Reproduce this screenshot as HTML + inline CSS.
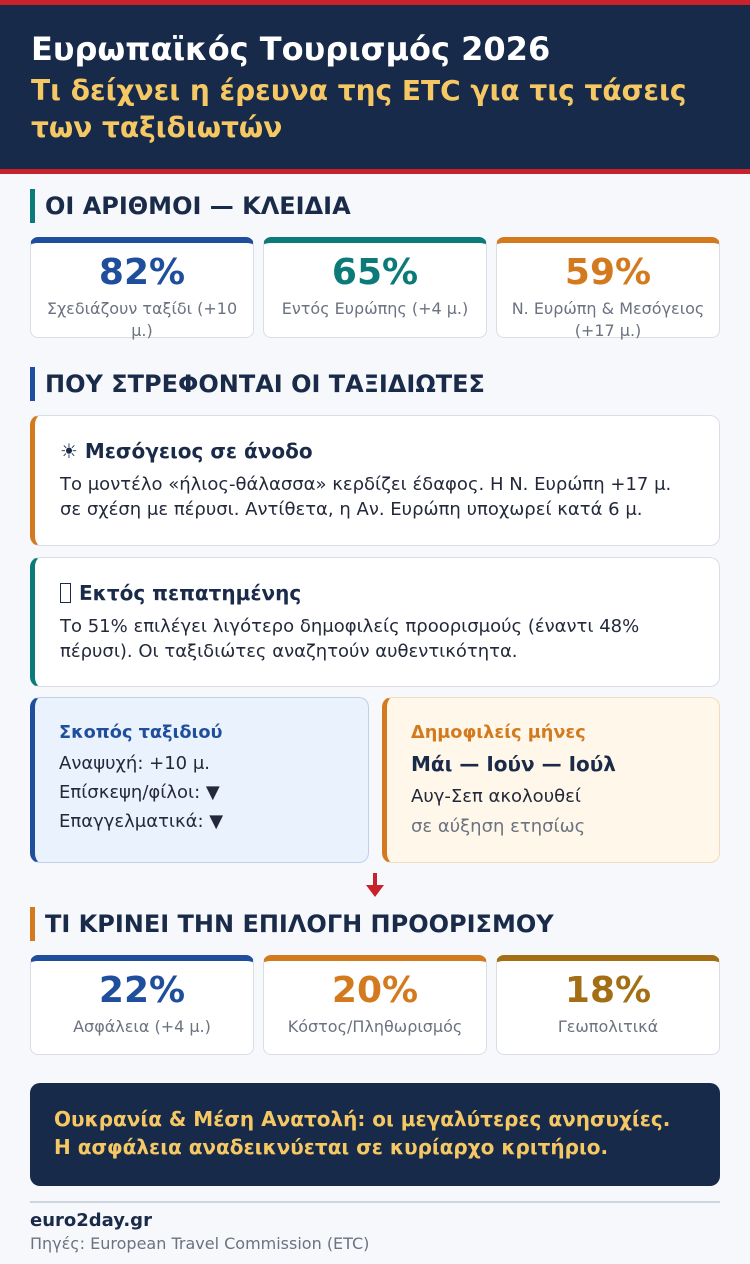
<!DOCTYPE html>
<html>
<head>
<meta charset="utf-8">
<style>
*{margin:0;padding:0;box-sizing:border-box;}
html,body{width:750px;height:1264px;overflow:hidden;}
body{background:#f6f8fb;font-family:"DejaVu Sans","Liberation Sans",sans-serif;position:relative;color:#1a2b4a;}
.abs{position:absolute;}
#hdr{left:0;top:0;width:750px;height:174px;background:#182a4a;border-top:5px solid #c8232c;border-bottom:5px solid #c8232c;}
.t1{left:31px;top:31px;font-size:32px;line-height:36px;font-weight:bold;color:#fff;white-space:nowrap;}
.t2{left:31px;top:72px;font-size:28px;line-height:37px;font-weight:bold;color:#f5c864;white-space:nowrap;}
.sec{left:30px;height:34px;border-left:5px solid #0b7a78;padding-left:10px;font-size:24px;line-height:34px;font-weight:bold;color:#1a2b4a;white-space:nowrap;}
.stat{width:224px;background:#fff;border:1px solid #d9dee6;border-top:6px solid #1f4e9c;border-radius:8px;}
.num{position:absolute;left:0;right:0;top:10px;text-align:center;font-size:36px;line-height:40px;font-weight:bold;}
.lab{position:absolute;left:0;right:0;top:55px;text-align:center;font-size:16px;line-height:22px;color:#6b7280;white-space:nowrap;}
.card{left:30px;width:690px;height:131px;background:#fff;border:1px solid #d9dee6;border-left:5px solid #d47a1e;border-radius:10px;}
.ct{position:absolute;left:25px;top:22.3px;font-size:20px;line-height:26px;font-weight:bold;color:#1a2b4a;white-space:nowrap;}
.cb{position:absolute;left:25px;top:55.5px;font-size:18px;line-height:25px;color:#23293a;white-space:nowrap;}
.box{top:697px;height:166px;border-radius:10px;}
.bx{position:absolute;left:24px;white-space:nowrap;font-size:18px;line-height:28px;color:#23293a;}
.tofu{display:inline-block;width:11px;height:20px;border:1.6px solid #1a2b4a;vertical-align:-3px;margin-right:1px;}
</style>
</head>
<body>
<div id="hdr" class="abs"></div>
<div class="abs t1">Ευρωπαϊκός Τουρισμός 2026</div>
<div class="abs t2">Τι δείχνει η έρευνα της ETC για τις τάσεις<br>των ταξιδιωτών</div>

<div class="abs sec" style="top:189px;border-left-color:#0b7a78;">ΟΙ ΑΡΙΘΜΟΙ — ΚΛΕΙΔΙΑ</div>

<div class="abs stat" style="left:30px;top:237px;height:101px;border-top-color:#1f4e9c;">
  <div class="num" style="color:#1f4e9c;">82%</div>
  <div class="lab">Σχεδιάζουν ταξίδι (+10<br>μ.)</div>
</div>
<div class="abs stat" style="left:263px;top:237px;height:101px;border-top-color:#0b7a78;">
  <div class="num" style="color:#0b7a78;">65%</div>
  <div class="lab">Εντός Ευρώπης (+4 μ.)</div>
</div>
<div class="abs stat" style="left:496px;top:237px;height:101px;border-top-color:#d47a1e;">
  <div class="num" style="color:#d47a1e;">59%</div>
  <div class="lab">Ν. Ευρώπη &amp; Μεσόγειος<br>(+17 μ.)</div>
</div>

<div class="abs sec" style="top:367px;border-left-color:#1f4e9c;">ΠΟΥ ΣΤΡΕΦΟΝΤΑΙ ΟΙ ΤΑΞΙΔΙΩΤΕΣ</div>

<div class="abs card" style="top:415px;border-left-color:#d47a1e;">
  <div class="ct">☀ Μεσόγειος σε άνοδο</div>
  <div class="cb">Το μοντέλο «ήλιος-θάλασσα» κερδίζει έδαφος. Η Ν. Ευρώπη +17 μ.<br>σε σχέση με πέρυσι. Αντίθετα, η Αν. Ευρώπη υποχωρεί κατά 6 μ.</div>
</div>
<div class="abs card" style="top:557px;height:130px;border-left-color:#0b7a78;">
  <div class="ct"><span class="tofu"></span> Εκτός πεπατημένης</div>
  <div class="cb">Το 51% επιλέγει λιγότερο δημοφιλείς προορισμούς (έναντι 48%<br>πέρυσι). Οι ταξιδιώτες αναζητούν αυθεντικότητα.</div>
</div>

<div class="abs box" style="left:30px;width:339px;background:#eaf2fd;border:1px solid #bfd0e8;border-left:5px solid #1f4e9c;">
  <div class="bx" style="top:23.5px;font-size:17.7px;font-weight:bold;color:#1f4e9c;line-height:22px;">Σκοπός ταξιδιού</div>
  <div class="bx" style="top:51px;line-height:29px;">Αναψυχή: +10 μ.</div>
  <div class="bx" style="top:80px;line-height:29px;">Επίσκεψη/φίλοι: ▼</div>
  <div class="bx" style="top:109px;line-height:29px;">Επαγγελματικά: ▼</div>
</div>
<div class="abs box" style="left:382px;width:338px;background:#fff7ea;border:1px solid #f0dcc0;border-left:5px solid #d47a1e;">
  <div class="bx" style="top:23.5px;font-size:17.7px;font-weight:bold;color:#d47a1e;line-height:22px;">Δημοφιλείς μήνες</div>
  <div class="bx" style="top:51px;font-size:20px;line-height:30px;font-weight:bold;color:#1a2b4a;">Μάι — Ιούν — Ιούλ</div>
  <div class="bx" style="top:84.5px;">Αυγ-Σεπ ακολουθεί</div>
  <div class="bx" style="top:114.5px;color:#6b7280;">σε αύξηση ετησίως</div>
</div>

<svg class="abs" style="left:365px;top:872px;" width="20" height="26" viewBox="0 0 20 26">
  <rect x="8" y="1" width="4" height="14" fill="#c8232c"/>
  <polygon points="1,13 19,13 10,25" fill="#c8232c"/>
</svg>

<div class="abs sec" style="top:907px;border-left-color:#d47a1e;">ΤΙ ΚΡΙΝΕΙ ΤΗΝ ΕΠΙΛΟΓΗ ΠΡΟΟΡΙΣΜΟΥ</div>

<div class="abs stat" style="left:30px;top:955px;height:100px;border-top-color:#1f4e9c;">
  <div class="num" style="color:#1f4e9c;">22%</div>
  <div class="lab">Ασφάλεια (+4 μ.)</div>
</div>
<div class="abs stat" style="left:263px;top:955px;height:100px;border-top-color:#d47a1e;">
  <div class="num" style="color:#d47a1e;">20%</div>
  <div class="lab">Κόστος/Πληθωρισμός</div>
</div>
<div class="abs stat" style="left:496px;top:955px;height:100px;border-top-color:#a46f14;">
  <div class="num" style="color:#a46f14;">18%</div>
  <div class="lab">Γεωπολιτικά</div>
</div>

<div class="abs" style="left:30px;top:1083px;width:690px;height:103px;background:#182a4a;border-radius:10px;"></div>
<div class="abs" style="left:54px;top:1105px;font-size:20px;line-height:28px;font-weight:bold;color:#f5c864;white-space:nowrap;">Ουκρανία &amp; Μέση Ανατολή: οι μεγαλύτερες ανησυχίες.<br>Η ασφάλεια αναδεικνύεται σε κυρίαρχο κριτήριο.</div>

<div class="abs" style="left:30px;top:1201px;width:690px;height:2px;background:#cfd5de;"></div>
<div class="abs" style="left:30px;top:1209px;font-size:18px;line-height:24px;font-weight:bold;color:#1a2b4a;white-space:nowrap;">euro2day.gr</div>
<div class="abs" style="left:30px;top:1234px;font-size:16px;line-height:20px;color:#6b7280;white-space:nowrap;">Πηγές: European Travel Commission (ETC)</div>
</body>
</html>
